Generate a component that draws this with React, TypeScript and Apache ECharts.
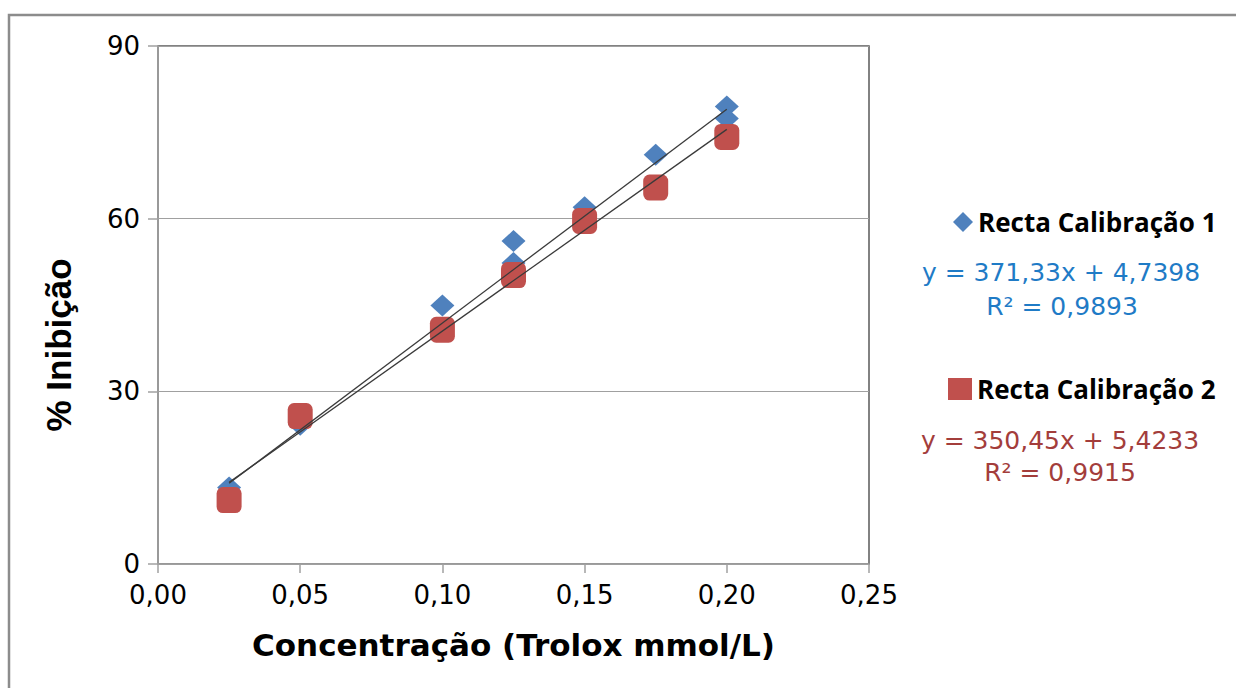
import React, { useEffect, useRef } from "react";
import * as echarts from "echarts";

// ---- data ----
const seriesNames = ["Recta Calibração 1", "Recta Calibração 2"];
const concentration1 = [0.025, 0.05, 0.1, 0.125, 0.125, 0.15, 0.175, 0.2, 0.2];
const inhibition1 = [13.3, 24.2, 44.9, 56.1, 52.3, 62.0, 71.1, 79.5, 77.4];
const concentration2 = [0.025, 0.05, 0.1, 0.125, 0.15, 0.175, 0.2];
const inhibition2 = [11.1, 25.7, 40.7, 50.2, 59.6, 65.4, 74.2];
// trendline coefficients shown in the chart
const slopes = [371.33, 350.45];
const intercepts = [4.7398, 5.4233];
const rSquared = [0.9893, 0.9915];
const trendRange = [0.025, 0.2];
const xTicks = { min: 0, max: 0.25, interval: 0.05 };
const yTicks = { min: 0, max: 90, interval: 30 };
const xTitle = "Concentração (Trolox mmol/L)";
const yTitle = "% Inibição";

const fmt = (v: number, d: number) => v.toFixed(d).replace(".", ",");

export default function App() {
  const ref = useRef<HTMLDivElement>(null);
  useEffect(() => {
    if (!ref.current) return;
    const chart = echarts.init(ref.current, null, { renderer: "svg" });
    const pts1 = concentration1.map((x, i) => [x, inhibition1[i]]);
    const pts2 = concentration2.map((x, i) => [x, inhibition2[i]]);
    const trend = (k: number) =>
      trendRange.map((x) => [x, slopes[k] * x + intercepts[k]]);
    const tickFont = { fontFamily: "DejaVu Sans", fontSize: 26, color: "#000" };
    const eqFont = "DejaVu Sans";
    const legendText = {
      fontFamily: "Open Sans",
      fontWeight: "bold",
      fontSize: 26,
      color: "#000",
      lineHeight: 26,
    };
    chart.setOption({
      animation: false,
      backgroundColor: "#fff",
      grid: {
        left: 158,
        top: 46,
        right: 367,
        bottom: 124,
        show: true,
        borderColor: "#5a5a5a",
        borderWidth: 1.5,
        backgroundColor: "transparent",
      },
      xAxis: {
        type: "value",
        min: xTicks.min,
        max: xTicks.max,
        interval: xTicks.interval,
        name: xTitle,
        nameLocation: "middle",
        nameGap: 65,
        nameTextStyle: {
          fontFamily: "DejaVu Sans",
          fontWeight: "bold",
          fontSize: 31,
          color: "#000",
        },
        axisLine: { show: true, onZero: false, lineStyle: { color: "#a0a0a0", width: 1.5 } },
        axisTick: { show: true, inside: false, length: 9, lineStyle: { color: "#a0a0a0", width: 1.5 } },
        axisLabel: { ...tickFont, margin: 18, formatter: (v: number) => fmt(v, 2) },
        splitLine: { show: false },
      },
      yAxis: {
        type: "value",
        min: yTicks.min,
        max: yTicks.max,
        interval: yTicks.interval,
        axisLine: { show: true, onZero: false, lineStyle: { color: "#a0a0a0", width: 1.5 } },
        axisTick: { show: true, inside: false, length: 10, lineStyle: { color: "#a0a0a0", width: 1.5 } },
        axisLabel: { ...tickFont, margin: 18, formatter: (v: number) => String(v) },
        splitLine: { show: true, lineStyle: { color: "#a0a0a0", width: 1.2 } },
      },
      legend: [
        {
          data: [{ name: seriesNames[0], icon: "diamond" }],
          left: 953,
          top: 209,
          padding: 0,
          itemWidth: 20,
          itemHeight: 20,
          textStyle: legendText,
          selectedMode: false,
        },
        {
          data: [{ name: seriesNames[1], icon: "rect" }],
          left: 948,
          top: 376,
          padding: 0,
          itemWidth: 24,
          itemHeight: 22,
          textStyle: legendText,
          selectedMode: false,
        },
      ],
      graphic: [
        {
          type: "rect",
          shape: { x: 9, y: 15, width: 1250, height: 700 },
          style: { fill: "none", stroke: "#8c8c8c", lineWidth: 2.5 },
          silent: true,
          z: 100,
        },
        {
          type: "text",
          x: 58,
          y: 345,
          rotation: Math.PI / 2,
          style: {
            text: yTitle,
            fill: "#000",
            font: `bold 35px "Liberation Sans"`,
            textAlign: "center",
            textVerticalAlign: "middle",
          },
        },
        {
          type: "text",
          x: 1061,
          y: 272,
          style: {
            text: `y = ${fmt(slopes[0], 2)}x + ${fmt(intercepts[0], 4)}`,
            fill: "#1f7bc6",
            font: `25px "${eqFont}"`,
            textAlign: "center",
            textVerticalAlign: "middle",
          },
        },
        {
          type: "text",
          x: 1062,
          y: 306,
          style: {
            text: `R² = ${fmt(rSquared[0], 4)}`,
            fill: "#1f7bc6",
            font: `25px "${eqFont}"`,
            textAlign: "center",
            textVerticalAlign: "middle",
          },
        },
        {
          type: "text",
          x: 1060,
          y: 440,
          style: {
            text: `y = ${fmt(slopes[1], 2)}x + ${fmt(intercepts[1], 4)}`,
            fill: "#a33d3b",
            font: `25px "${eqFont}"`,
            textAlign: "center",
            textVerticalAlign: "middle",
          },
        },
        {
          type: "text",
          x: 1060,
          y: 472,
          style: {
            text: `R² = ${fmt(rSquared[1], 4)}`,
            fill: "#a33d3b",
            font: `25px "${eqFont}"`,
            textAlign: "center",
            textVerticalAlign: "middle",
          },
        },
      ],
      series: [
        {
          name: seriesNames[0],
          type: "scatter",
          data: pts1,
          symbol: "diamond",
          symbolSize: [24, 22],
          itemStyle: { color: "#4f81bd", opacity: 1 },
          z: 2,
        },
        {
          name: seriesNames[1],
          type: "scatter",
          data: pts2,
          symbol: "roundRect",
          symbolSize: [25, 26],
          itemStyle: { color: "#c0504d", opacity: 1 },
          z: 3,
        },
        {
          name: "trend1",
          type: "line",
          data: trend(0),
          symbol: "none",
          lineStyle: { color: "#3a3a3a", width: 1.3 },
          z: 4,
        },
        {
          name: "trend2",
          type: "line",
          data: trend(1),
          symbol: "none",
          lineStyle: { color: "#3a3a3a", width: 1.3 },
          z: 4,
        },
      ],
    });
    return () => chart.dispose();
  }, []);
  return (
    <div
      ref={ref}
      style={{ position: "absolute", left: 0, top: 0, width: 1236, height: 688 }}
    />
  );
}
